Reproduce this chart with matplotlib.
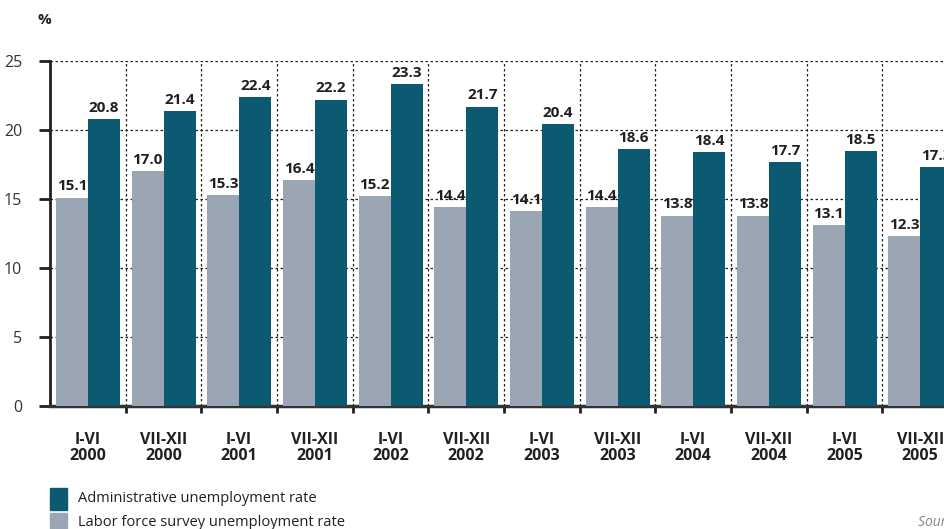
import numpy as np
import matplotlib
matplotlib.use("Agg")
import matplotlib.pyplot as plt
from matplotlib.patches import Rectangle

# ---------------------------------
# DATA
# ---------------------------------

periods = ["I-VI", "VII-XII"] * 6
years = ["2000", "2000", "2001", "2001", "2002", "2002",
         "2003", "2003", "2004", "2004", "2005", "2005"]
survey_rate = [15.1, 17.0, 15.3, 16.4, 15.2, 14.4,
               14.1, 14.4, 13.8, 13.8, 13.1, 12.3]
admin_rate = [20.8, 21.4, 22.4, 22.2, 23.3, 21.7,
              20.4, 18.6, 18.4, 17.7, 18.5, 17.3]
y_ticks = [0, 5, 10, 15, 20, 25]

TEAL = "#0b5a72"
GREY = "#9ba6b4"
INK = "#231f20"

plt.rcParams["font.family"] = ["Open Sans", "DejaVu Sans"]

fig = plt.figure(figsize=(9.44, 5.29), dpi=100)
W, H = 944, 529
ax = fig.add_axes([50 / W, (H - 406) / H, 908 / W, 345 / H])

n = len(admin_rate)
x = np.arange(n)
bw = 0.423
off = 0.08

ax.bar(x + off, survey_rate, width=bw, align="edge", color=GREY, zorder=3)
ax.bar(x + off + bw, admin_rate, width=bw, align="edge", color=TEAL, zorder=3)

for i in range(n):
    ax.text(x[i] + off + bw / 2, survey_rate[i] + 0.3, f"{survey_rate[i]:.1f}",
            ha="center", va="bottom", fontsize=11, fontweight="bold", color=INK)
    ax.text(x[i] + off + 1.5 * bw, admin_rate[i] + 0.3, f"{admin_rate[i]:.1f}",
            ha="center", va="bottom", fontsize=11, fontweight="bold", color=INK)

ax.set_xlim(0, n)
ax.set_ylim(0, 25)

# dotted grid
for yv in y_ticks[1:]:
    ax.axhline(yv, color=INK, lw=0.9, ls=(0, (2, 2)), zorder=1)
for b in range(1, n):
    ax.axvline(b, color=INK, lw=0.9, ls=(0, (2, 2)), zorder=1)

ax.set_yticks(y_ticks)
ax.set_yticklabels([str(v) for v in y_ticks], fontsize=11.5, color="#333333")
ax.tick_params(axis="y", length=8, width=2, color=INK, pad=12)

ax.set_xticks(x + 0.5)
ax.set_xticklabels([f"{p}\n{y}" for p, y in zip(periods, years)],
                   fontsize=11.5, fontweight="bold", color=INK, linespacing=1.0)
ax.tick_params(axis="x", which="major", length=0, pad=19)
ax.set_xticks(np.arange(1, n), minor=True)
ax.tick_params(axis="x", which="minor", length=5, width=2, color=INK)

for s in ["top", "right"]:
    ax.spines[s].set_visible(False)
ax.spines["left"].set_linewidth(2)
ax.spines["left"].set_color(INK)
ax.spines["bottom"].set_linewidth(2.5)
ax.spines["bottom"].set_color("#333333")
ax.set_axisbelow(True)

fig.text(37 / W, 1 - 20 / H, "%", fontsize=11, fontweight="bold", color=INK,
         va="center")

# legend
fig.add_artist(Rectangle((50 / W, (H - 510) / H), 17 / W, 22 / H,
                         transform=fig.transFigure, color=TEAL))
fig.add_artist(Rectangle((50 / W, (H - 535) / H), 17 / W, 22 / H,
                         transform=fig.transFigure, color=GREY))
fig.text(78 / W, 1 - 499 / H, "Administrative unemployment rate",
         fontsize=10.5, color=INK, va="center")
fig.text(78 / W, 1 - 523 / H, "Labor force survey unemployment rate",
         fontsize=10.5, color=INK, va="center")
fig.text(918 / W, 1 - 522 / H, "Source: Statistical Office",
         fontsize=10, style="italic", color="#888888", va="center")

fig.savefig("out.png", dpi=100)
